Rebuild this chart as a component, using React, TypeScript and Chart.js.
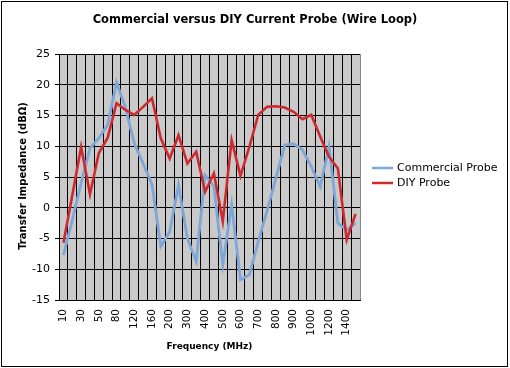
import React, { useEffect, useRef } from "react";
import { Chart, registerables } from "chart.js";

Chart.register(...registerables);

const frequencies = ["10", "20", "30", "40", "50", "65", "80", "100", "120", "140", "160", "180", "200", "250", "300", "350", "400", "450", "500", "550", "600", "650", "700", "750", "800", "850", "900", "950", "1000", "1100", "1200", "1300", "1400", "1500"];
const commercialProbe = [-7.7, -2, 4, 9.7, 11.3, 13.5, 20.4, 16.3, 10.5, 7.2, 3.8, -6.3, -3.9, 3.7, -5, -8.7, 5.3, 3.5, -9.3, 0.5, -11.7, -10.9, -5.5, -0.5, 4.8, 10.2, 10.4, 9.4, 6.7, 3.4, 9.9, -2.5, -3.6, -2.5];
const diyProbe = [-5.7, 2, 9.9, 2.2, 8.9, 11.4, 17, 15.9, 15.1, 16.4, 17.8, 11.3, 8, 11.8, 7.2, 9.1, 2.6, 5.6, -2.2, 11, 5.2, 9.9, 15.1, 16.4, 16.5, 16.3, 15.6, 14.4, 15.1, 11.6, 8.3, 6.4, -5.2, -1];
const seriesNames = ["Commercial Probe", "DIY Probe"];
const chartTitle = "Commercial versus DIY Current Probe (Wire Loop)";
const xTitle = "Frequency (MHz)";
const yTitle = "Transfer Impedance (dB\u03a9)";

const FONT = "'DejaVu Sans', Verdana, sans-serif";
const BLUE = "#7ea6d6";
const RED = "#cc2a2e";

const decorPlugin = {
  id: "decor",
  beforeDraw(chart: any) {
    const { ctx, chartArea: a } = chart;
    ctx.save();
    ctx.fillStyle = "#ffffff";
    ctx.fillRect(0, 0, chart.width, chart.height);
    ctx.fillStyle = "#c9c9c9";
    ctx.fillRect(a.left, a.top, a.right - a.left, a.bottom - a.top);
    ctx.restore();
  },
  afterDraw(chart: any) {
    const { ctx, chartArea: a } = chart;
    ctx.save();
    // plot area right edge (gray)
    ctx.strokeStyle = "#8a8a8a";
    ctx.lineWidth = 1;
    ctx.beginPath();
    ctx.moveTo(Math.round(a.right) + 0.5, a.top);
    ctx.lineTo(Math.round(a.right) + 0.5, a.bottom);
    ctx.stroke();
    // outer border
    ctx.strokeStyle = "#000";
    ctx.strokeRect(1.5, 1.5, 506, 365);
    // title
    ctx.fillStyle = "#000";
    ctx.textAlign = "center";
    ctx.textBaseline = "middle";
    ctx.font = `bold 11.5px ${FONT}`;
    ctx.fillText(chartTitle, 255, 20);
    // x title
    ctx.font = `bold 9px ${FONT}`;
    ctx.fillText(xTitle, (a.left + a.right) / 2, 347);
    // y title
    ctx.save();
    ctx.font = `bold 10px ${FONT}`;
    ctx.translate(23, (a.top + a.bottom) / 2 - 1);
    ctx.rotate(-Math.PI / 2);
    ctx.fillText(yTitle, 0, 0);
    ctx.restore();
    // legend
    const colors = [BLUE, RED];
    const ys = [168, 183];
    ctx.textAlign = "left";
    ctx.font = `11px ${FONT}`;
    seriesNames.forEach((name, i) => {
      ctx.strokeStyle = colors[i];
      ctx.lineWidth = 2.5;
      ctx.beginPath();
      ctx.moveTo(372, ys[i]);
      ctx.lineTo(393, ys[i]);
      ctx.stroke();
      ctx.fillStyle = "#000";
      ctx.fillText(name, 397, ys[i]);
    });
    ctx.restore();
  },
};

export default function App() {
  const canvasRef = useRef<HTMLCanvasElement | null>(null);

  useEffect(() => {
    document.body.style.margin = "0";
    const canvas = canvasRef.current;
    if (!canvas) return;
    const chart = new Chart(canvas, {
      type: "line",
      data: {
        labels: frequencies,
        datasets: [
          {
            label: seriesNames[0],
            data: commercialProbe,
            borderColor: BLUE,
            backgroundColor: BLUE,
            borderWidth: 2.8,
            pointRadius: 0,
            tension: 0,
            order: 1,
          },
          {
            label: seriesNames[1],
            data: diyProbe,
            borderColor: RED,
            backgroundColor: RED,
            borderWidth: 2.6,
            pointRadius: 0,
            tension: 0,
            order: 0,
          },
        ],
      },
      options: {
        animation: false,
        responsive: false,
        maintainAspectRatio: false,
        devicePixelRatio: 1,
        layout: { padding: { top: 54, right: 150, left: 0, bottom: 0 } },
        plugins: {
          legend: { display: false },
          title: { display: false },
          tooltip: { enabled: false },
        },
        scales: {
          x: {
            type: "category",
            offset: true,
            grid: { offset: true, color: "#000", lineWidth: 1, drawTicks: false },
            border: { color: "#000", width: 1 },
            ticks: {
              autoSkip: false,
              maxRotation: 90,
              minRotation: 90,
              padding: 9,
              color: "#000",
              font: { family: FONT, size: 10.5 },
              callback: (_v: any, i: number) => (i % 2 === 0 ? frequencies[i] : ""),
            },
            afterFit: (s: any) => {
              s.height = 68;
            },
          },
          y: {
            min: -15,
            max: 25,
            grid: { color: "#000", lineWidth: 1, tickLength: 4 },
            border: { color: "#000", width: 1 },
            ticks: {
              stepSize: 5,
              padding: 5,
              color: "#000",
              font: { family: FONT, size: 11 },
            },
            afterFit: (s: any) => {
              s.width = 59;
            },
          },
        },
      },
      plugins: [decorPlugin],
    });
    return () => chart.destroy();
  }, []);

  return (
    <div style={{ width: 510, height: 368 }}>
      <canvas ref={canvasRef} width={510} height={368} style={{ display: "block" }} />
    </div>
  );
}
